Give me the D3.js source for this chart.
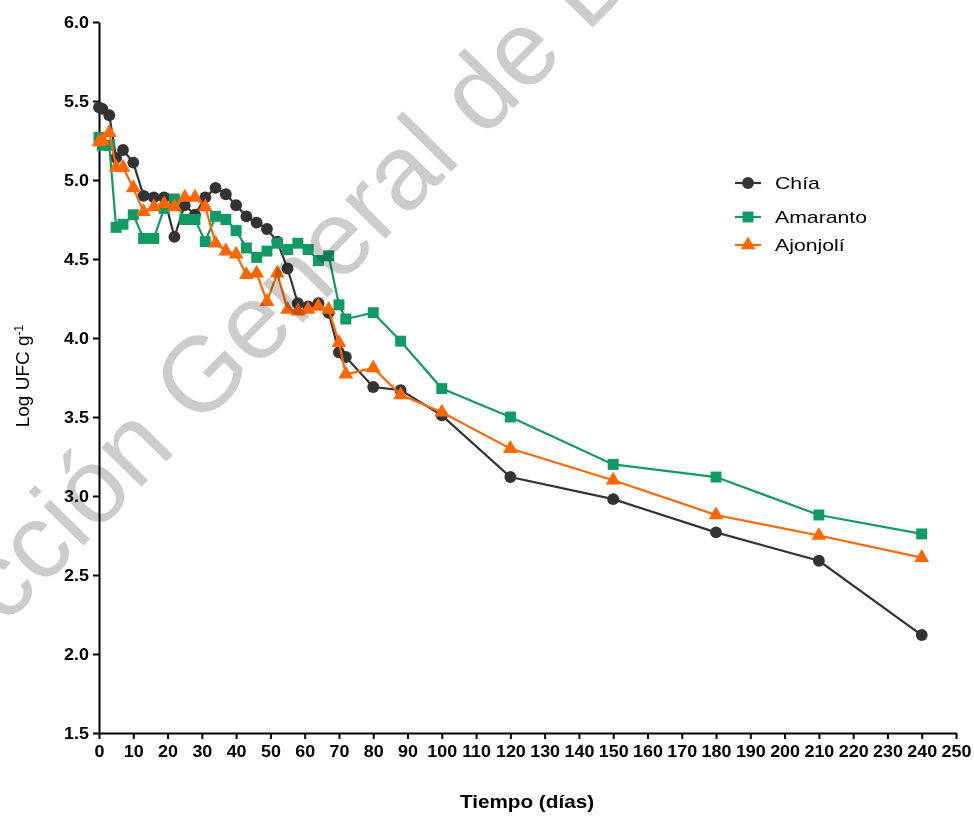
<!DOCTYPE html>
<html>
<head>
<meta charset="utf-8">
<script src="https://cdn.jsdelivr.net/npm/d3@7"></script>
<style>
    body { margin: 0; background: #fff; }
    #chart { width: 974px; height: 821px; }
    text { font-family: "Liberation Sans", Arial, sans-serif; }
</style>
</head>
<body>
<div id="chart"></div>
<script>
// dias de muestreo
var dias = [0, 1, 3, 5, 7, 10, 13, 16, 19, 22, 25, 28, 31, 34, 37, 40, 43, 46, 49, 52, 55, 58, 61, 64, 67, 70, 72, 80, 88, 100, 120, 150, 180, 210, 240];

var chia = [5.46, 5.45, 5.41, 5.14, 5.19, 5.11, 4.90, 4.89, 4.89, 4.64, 4.84, 4.78, 4.89, 4.95, 4.91, 4.84, 4.77, 4.73, 4.69, 4.61, 4.44, 4.22, 4.20, 4.22, 4.16, 3.91, 3.88, 3.69, 3.67, 3.51, 3.12, 2.98, 2.77, 2.59, 2.12];
var amaranto = [5.27, 5.22, 5.22, 4.70, 4.72, 4.78, 4.63, 4.63, 4.82, 4.88, 4.75, 4.75, 4.61, 4.77, 4.75, 4.68, 4.57, 4.51, 4.55, 4.60, 4.56, 4.60, 4.56, 4.49, 4.52, 4.21, 4.12, 4.16, 3.98, 3.68, 3.50, 3.20, 3.12, 2.88, 2.76];
var ajonjoli = [5.24, 5.25, 5.30, 5.08, 5.08, 4.95, 4.80, 4.83, 4.85, 4.83, 4.89, 4.89, 4.83, 4.60, 4.55, 4.53, 4.40, 4.41, 4.23, 4.41, 4.18, 4.17, 4.18, 4.20, 4.18, 3.97, 3.77, 3.81, 3.64, 3.53, 3.30, 3.10, 2.88, 2.75, 2.61];

var xTicks = d3.range(0, 251, 10);
var yTicks = [1.5, 2.0, 2.5, 3.0, 3.5, 4.0, 4.5, 5.0, 5.5, 6.0];

var series = [
    { name: 'Chía', values: chia, color: '#333333', symbol: d3.symbolCircle, size: 110 },
    { name: 'Amaranto', values: amaranto, color: '#109b64', symbol: d3.symbolSquare, size: 120 },
    { name: 'Ajonjolí', values: ajonjoli, color: '#ff6600', symbol: d3.symbolTriangle, size: 95 }
];

var width = 974;
var height = 821;

var margin = { top: 22, bottom: 88, left: 99, right: 18 };

var svg = d3.select('#chart')
    .append('svg')
    .attr('width', width)
    .attr('height', height);

var x_scale = d3.scaleLinear()
    .domain([0, 250])
    .range([margin.left, width - margin.right]);

var y_scale = d3.scaleLinear()
    .domain([1.5, 6.0])
    .range([height - margin.bottom, margin.top]);

// ejes
var x_axis = d3.axisBottom(x_scale)
    .tickValues(xTicks)
    .tickFormat(d3.format('d'))
    .tickSizeInner(6)
    .tickSizeOuter(0)
    .tickPadding(7);

var y_axis = d3.axisLeft(y_scale)
    .tickValues(yTicks)
    .tickFormat(d3.format('.1f'))
    .tickSizeInner(6)
    .tickSizeOuter(0)
    .tickPadding(3);

var gx = svg.append('g')
    .attr('class', 'x axis')
    .attr('transform', 'translate(0,' + y_scale(1.5) + ')')
    .call(x_axis);

var gy = svg.append('g')
    .attr('class', 'y axis')
    .attr('transform', 'translate(' + x_scale(0) + ',0)')
    .call(y_axis);

svg.selectAll('.axis path, .axis line')
    .attr('stroke', '#000')
    .attr('stroke-width', 2);

svg.selectAll('.axis text')
    .attr('fill', '#000')
    .style('font-size', '16px')
    .style('font-weight', 'bold');

gx.selectAll('text')
    .attr('transform', 'scale(1.12,1)');

gy.selectAll('text')
    .attr('dy', '0.36em')
    .attr('x', -10 / 1.12)
    .attr('transform', 'scale(1.12,1)');

// titulos
svg.append('text')
    .attr('transform', 'translate(' + 527 + ',' + 808 + ') scale(1.15,1)')
    .attr('text-anchor', 'middle')
    .style('font-size', '18px')
    .style('font-weight', 'bold')
    .text('Tiempo (días)');

var ylab = svg.append('text')
    .attr('transform', 'translate(29,376) rotate(-90)')
    .attr('text-anchor', 'middle')
    .style('font-size', '19px');
ylab.append('tspan').text('Log UFC g');
ylab.append('tspan')
    .attr('dy', '-0.5em')
    .style('font-size', '12px')
    .text('-1');

// series
var line = d3.line()
    .x(function (d) { return x_scale(d[0]); })
    .y(function (d) { return y_scale(d[1]); });

series.forEach(function (s) {
    var pts = dias.map(function (d, i) { return [d, s.values[i]]; });
    var g = svg.append('g').attr('class', 'serie');

    g.append('path')
        .datum(pts)
        .attr('fill', 'none')
        .attr('stroke', s.color)
        .attr('stroke-width', 2.2)
        .attr('d', line);

    g.selectAll('.punto')
        .data(pts)
        .enter()
        .append('path')
        .attr('class', 'punto')
        .attr('d', d3.symbol().type(s.symbol).size(s.size))
        .attr('fill', s.color)
        .attr('transform', function (d) {
            return 'translate(' + x_scale(d[0]) + ',' + y_scale(d[1]) + ')';
        });
});

// leyenda
var legendY = [183, 217, 245];
var legend = svg.append('g').attr('class', 'legend');
series.forEach(function (s, i) {
    var g = legend.append('g')
        .attr('transform', 'translate(735,' + legendY[i] + ')');
    g.append('line')
        .attr('x1', 0).attr('x2', 26)
        .attr('stroke', s.color)
        .attr('stroke-width', 2.2);
    g.append('path')
        .attr('d', d3.symbol().type(s.symbol).size(s.size))
        .attr('fill', s.color)
        .attr('transform', 'translate(13,0)');
    g.append('text')
        .attr('transform', 'translate(40,0) scale(1.25,1)')
        .attr('dy', '0.36em')
        .style('font-size', '17px')
        .attr('fill', '#000')
        .text(s.name);
});

// marca de agua
svg.append('text')
    .attr('transform', 'translate(-132,765) rotate(-45.5)')
    .style('font-size', '106px')
    .style('mix-blend-mode', 'multiply')
    .attr('fill', '#cccccc')
    .text('Dirección General de Bibliotecas');
</script>
</body>
</html>
